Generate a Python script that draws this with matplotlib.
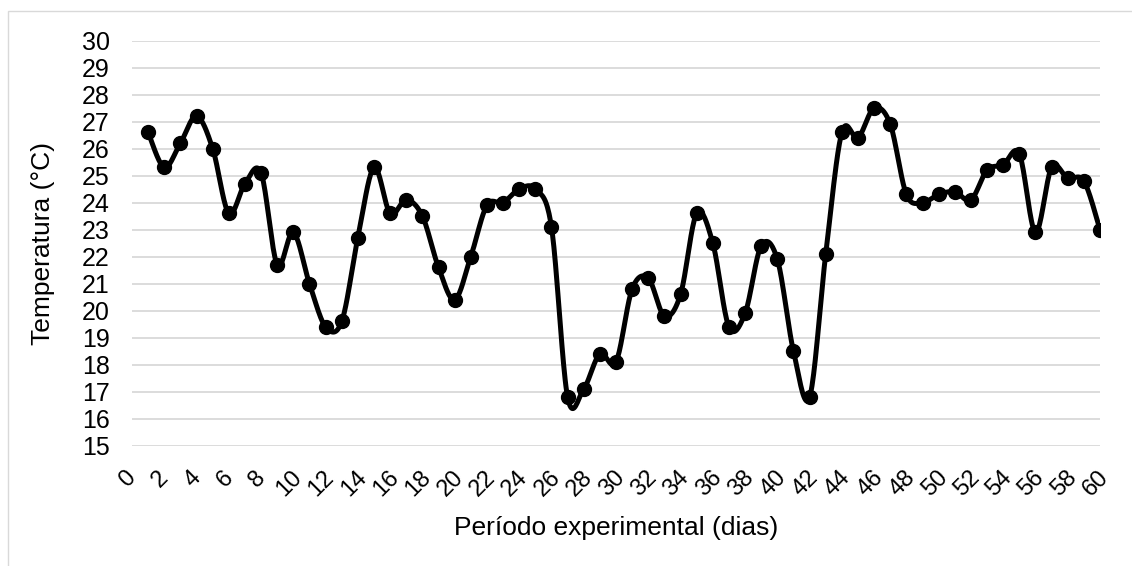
import numpy as np
import matplotlib
matplotlib.use("Agg")
from matplotlib import pyplot as plt
from matplotlib.patches import Rectangle
from matplotlib.transforms import ScaledTranslation

plt.rcParams['font.family'] = ['Liberation Sans', 'DejaVu Sans']

# Dados
dias = list(range(1, 61))
temperatura = [26.6, 25.3, 26.2, 27.2, 26.0, 23.6, 24.7, 25.1, 21.7, 22.9,
               21.0, 19.4, 19.6, 22.7, 25.3, 23.6, 24.1, 23.5, 21.6, 20.4,
               22.0, 23.9, 24.0, 24.5, 24.5, 23.1, 16.8, 17.1, 18.4, 18.1,
               20.8, 21.2, 19.8, 20.6, 23.6, 22.5, 19.4, 19.9, 22.4, 21.9,
               18.5, 16.8, 22.1, 26.6, 26.4, 27.5, 26.9, 24.3, 24.0, 24.3,
               24.4, 24.1, 25.2, 25.4, 25.8, 22.9, 25.3, 24.9, 24.8, 23.0]
xticks = list(range(0, 61, 2))
yticks = list(range(15, 31))


def suavizar(x, y, n=20):
    # curva suavizada estilo Excel (Bezier com pontos de controle Catmull-Rom)
    x = np.asarray(x, float)
    y = np.asarray(y, float)
    xs, ys = [], []
    for i in range(len(x) - 1):
        p0 = i - 1 if i > 0 else i
        p3 = i + 2 if i + 2 < len(x) else i + 1
        c1x = x[i] + (x[i + 1] - x[p0]) / 6
        c1y = y[i] + (y[i + 1] - y[p0]) / 6
        c2x = x[i + 1] - (x[p3] - x[i]) / 6
        c2y = y[i + 1] - (y[p3] - y[i]) / 6
        t = np.linspace(0, 1, n, endpoint=False)
        b0, b1, b2, b3 = (1 - t) ** 3, 3 * t * (1 - t) ** 2, 3 * t ** 2 * (1 - t), t ** 3
        xs.extend(b0 * x[i] + b1 * c1x + b2 * c2x + b3 * x[i + 1])
        ys.extend(b0 * y[i] + b1 * c1y + b2 * c2y + b3 * y[i + 1])
    xs.append(x[-1])
    ys.append(y[-1])
    return np.array(xs), np.array(ys)


fig = plt.figure(figsize=(11.32, 5.66), dpi=100)
fig.patches.append(Rectangle((8 / 1132, -0.1), 1.2, 1.1 - 11 / 566, transform=fig.transFigure,
                             fill=False, edgecolor='#d9d9d9', linewidth=1))
ax = fig.add_axes([132 / 1132, 1 - 445.7 / 566, (1100 - 132) / 1132, (445.7 - 40.5) / 566])

xs, ys = suavizar(dias, temperatura)
ax.plot(xs, ys, color='black', linewidth=3.6, solid_capstyle='round', zorder=3)
ax.plot(dias, temperatura, 'o', color='black', markersize=10, zorder=4)

ax.set_xlim(0, 60)
ax.set_ylim(15, 30)
ax.set_xticks(xticks)
ax.set_yticks(yticks)
ax.set_xticklabels([str(v) for v in xticks], rotation=45, ha='center',
                   va='top', fontsize=17)
ax.set_yticklabels([str(v) for v in yticks], fontsize=18)
ax.tick_params(length=0, pad=16)
ax.tick_params(axis='x', pad=15)
desloc = ScaledTranslation(-4 / 100, 0, fig.dpi_scale_trans)
for lbl in ax.get_xticklabels():
    lbl.set_transform(lbl.get_transform() + desloc)
ax.grid(True, axis='y', color='#d9d9d9', linewidth=1.3)
ax.set_axisbelow(True)
for s in ax.spines.values():
    s.set_visible(False)

ax.set_xlabel("Período experimental (dias)", fontsize=19, labelpad=11)
ax.set_ylabel("Temperatura (°C)", fontsize=19, labelpad=19)

fig.savefig("out.png", dpi=100)
